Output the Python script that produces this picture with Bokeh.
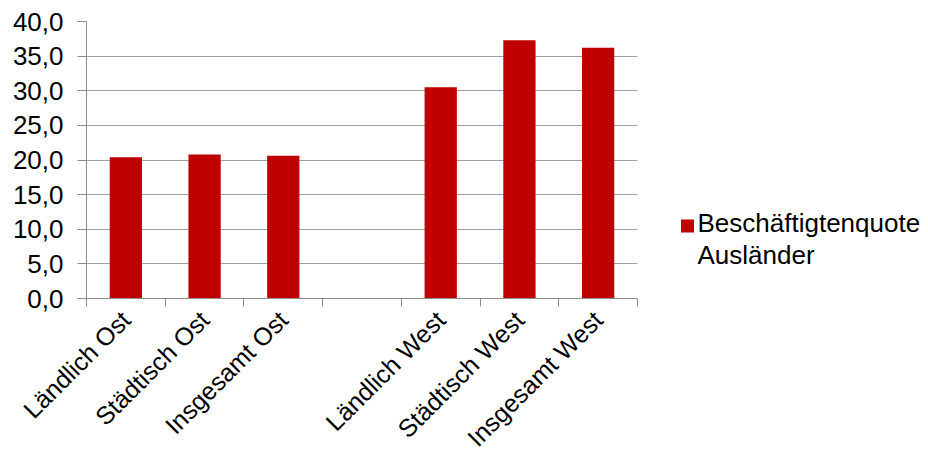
import math
from bokeh.plotting import figure
from bokeh.layouts import row
from bokeh.models import Range1d, LinearAxis, FixedTicker, ColumnDataSource
from bokeh.core.properties import value
from bokeh.embed import file_html
from bokeh.resources import INLINE

# Category slots (the blank slot separates East and West)
categories = ["Ländlich Ost", "Städtisch Ost", "Insgesamt Ost", "",
              "Ländlich West", "Städtisch West", "Insgesamt West"]
bar_categories = ["Ländlich Ost", "Städtisch Ost", "Insgesamt Ost",
                  "Ländlich West", "Städtisch West", "Insgesamt West"]
quote_values = [20.4, 20.8, 20.6, 30.5, 37.3, 36.2]
series_name = "Beschäftigtenquote\nAusländer"

y_ticks = [0, 5, 10, 15, 20, 25, 30, 35, 40]
y_tick_labels = ["0,0", "5,0", "10,0", "15,0", "20,0", "25,0", "30,0", "35,0", "40,0"]

FONT = "Liberation Sans"
GRID = "#a0a0a0"
AXIS = "#8c8c8c"
BAR = "#c00000"

TOP, BOTTOM = 21, 167          # space above / below the plotting frame
HEIGHT = 465

n = len(categories)
slot_centers = [i + 0.5 for i in range(n)]
slot_edges = list(range(n + 1))

# ---- bar chart -------------------------------------------------------------
p = figure(width=640, height=HEIGHT,
           x_range=Range1d(0, n), y_range=Range1d(0, 40),
           x_axis_location=None, y_axis_location=None,
           output_backend="svg", toolbar_location=None,
           min_border_left=86, min_border_right=3,
           min_border_top=TOP, min_border_bottom=BOTTOM)
p.outline_line_color = None
p.background_fill_color = "white"
p.border_fill_color = "white"

# each bar sits in the middle of its category slot
bar_x = [categories.index(c) + 0.5 for c in bar_categories]
src = ColumnDataSource(data=dict(x=bar_x, cat=bar_categories, val=quote_values))
p.vbar(x="x", top="val", width=0.41, source=src, fill_color=BAR, line_color=None)

# Y axis
yaxis = LinearAxis(ticker=FixedTicker(ticks=y_ticks))
yaxis.major_label_overrides = {t: s for t, s in zip(y_ticks, y_tick_labels)}
yaxis.axis_line_color = AXIS
yaxis.major_tick_line_color = AXIS
yaxis.major_tick_in = 0
yaxis.major_tick_out = 9
yaxis.minor_tick_line_color = None
yaxis.major_label_standoff = 14
yaxis.major_label_text_font = FONT
yaxis.major_label_text_font_size = "26px"
yaxis.major_label_text_color = "#000000"
p.add_layout(yaxis, "left")

# Horizontal gridlines
p.ygrid.ticker = FixedTicker(ticks=y_ticks)
p.ygrid.grid_line_color = GRID
p.ygrid.grid_line_width = 1
p.xgrid.visible = False

# Bottom axis line with ticks between category slots
edge_axis = LinearAxis(ticker=FixedTicker(ticks=slot_edges))
edge_axis.major_label_overrides = {i: "" for i in slot_edges}
edge_axis.major_label_text_font_size = "1px"
edge_axis.major_label_standoff = 0
edge_axis.axis_line_color = AXIS
edge_axis.major_tick_line_color = AXIS
edge_axis.major_tick_in = 0
edge_axis.major_tick_out = 8
edge_axis.minor_tick_line_color = None
p.add_layout(edge_axis, "below")

# Category names, slanted, centred on each slot
cat_axis = LinearAxis(ticker=FixedTicker(ticks=slot_centers))
cat_axis.major_label_overrides = {x: c if c else " " for x, c in zip(slot_centers, categories)}
cat_axis.axis_line_color = None
cat_axis.major_tick_line_color = None
cat_axis.minor_tick_line_color = None
cat_axis.major_tick_out = 0
cat_axis.major_tick_in = 0
cat_axis.major_label_orientation = math.pi / 4
cat_axis.major_label_standoff = 9
cat_axis.major_label_text_font = FONT
cat_axis.major_label_text_font_size = "25px"
cat_axis.major_label_text_color = "#000000"
p.add_layout(cat_axis, "below")

# ---- legend panel ----------------------------------------------------------
# Its frame spans the same rows as the chart frame; the y range is set so
# that one data unit equals one pixel, counted from the top of the page.
leg = figure(width=288, height=HEIGHT,
             x_range=Range1d(0, 288), y_range=Range1d(HEIGHT - BOTTOM, TOP),
             x_axis_location=None, y_axis_location=None,
             output_backend="svg", toolbar_location=None,
             min_border_left=0, min_border_right=0,
             min_border_top=TOP, min_border_bottom=BOTTOM)
leg.outline_line_color = None
leg.grid.visible = False
leg.background_fill_color = "white"
leg.border_fill_color = "white"

leg.scatter(x=[47], y=[225.5], marker="square", size=13,
            fill_color=BAR, line_color=None)
label_lines = series_name.split("\n")
leg_src = ColumnDataSource(data=dict(x=[57] * len(label_lines),
                                     y=[222 + 32 * i for i in range(len(label_lines))],
                                     txt=label_lines))
leg.text(x="x", y="y", text="txt", source=leg_src,
         text_font=value(FONT), text_font_size="26px",
         text_color="#000000", text_baseline="alphabetic", text_align="left")

layout = row(p, leg, spacing=0)

open("out.html", "w").write(file_html(layout, INLINE))
